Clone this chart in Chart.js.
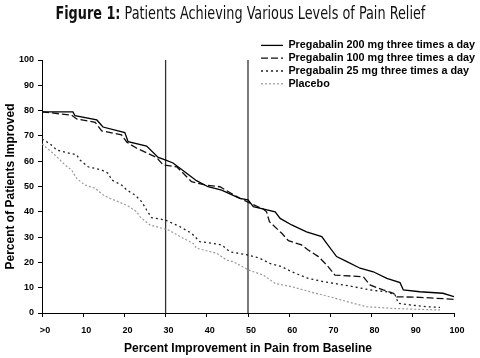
<!DOCTYPE html>
<html>
<head>
<meta charset="utf-8">
<script src="https://cdn.jsdelivr.net/npm/chart.js@4"></script>
<style>
    html, body { margin: 0; padding: 0; background: #fff; }
    #wrap { position: relative; width: 480px; height: 358px; }
    #title {
        position: absolute; top: 3px; left: 0; width: 480px; text-align: center;
        font-family: "Liberation Sans Narrow", "DejaVu Sans Condensed", sans-serif;
        font-size: 17px; color: #111; white-space: nowrap;
    }
    #title span { display: inline-block; transform-origin: center; }
</style>
</head>
<body>
<div id="wrap">
    <canvas id="painChart" width="480" height="358"></canvas>
    <div id="title"><span><b>Figure 1:</b> Patients Achieving Various Levels of Pain Relief</span></div>
</div>
<script>
// Percent improvement in pain (x) vs percent of patients improved (y)
const xTicks = [0, 10, 20, 30, 40, 50, 60, 70, 80, 90, 100];
const yTicks = [0, 10, 20, 30, 40, 50, 60, 70, 80, 90, 100];
const markerLines = [30, 50];

const seriesNames = [
    'Pregabalin 200 mg three times a day',
    'Pregabalin 100 mg three times a day',
    'Pregabalin 25 mg three times a day',
    'Placebo'
];

const pg200X = [0, 7.5, 8, 13.3, 14.8, 20.1, 20.9, 25.4, 28.2, 29.9, 31.8, 35.1, 37.5, 40.3, 43.6, 48, 50, 51.3, 56.6, 57.8, 60.6, 64.2, 67.9, 69.1, 71.5, 74, 77.2, 80.4, 83.7, 86.9, 87.7, 91.7, 97.3, 100];
const pg200Y = [79.5, 79.5, 78, 76.3, 73.5, 71.3, 67.7, 66, 61.5, 60.5, 59.3, 55.2, 52.3, 49.9, 48.6, 45.3, 44.7, 42, 40, 37.4, 34.8, 32.1, 30.2, 27.5, 22.3, 20.3, 17.7, 16.3, 13.7, 12, 9.1, 8.4, 7.8, 6.5];

const pg100X = [0, 7.2, 8.4, 12.9, 14.5, 19.3, 20.6, 23, 27.8, 29.4, 32.7, 36.3, 39.6, 43.2, 47.3, 50.5, 53.7, 54.5, 55.2, 58.2, 59.8, 63, 64.6, 67.1, 69.1, 71.1, 78, 79.6, 82.8, 85.3, 86.1, 91.7, 100];
const pg100Y = [79.5, 78.2, 76.7, 75.4, 72, 70.4, 67.5, 65.1, 61.5, 58.5, 57.8, 51.9, 50.6, 49.9, 46, 43.4, 41.1, 40, 36.1, 31.5, 28.6, 26.9, 24.9, 22.3, 19, 15, 14.3, 11.1, 9.1, 7.8, 6.4, 6.2, 5.4];

const pg25X = [0, 2, 3.6, 6, 8.4, 9.2, 11.2, 14.5, 16.1, 16.9, 19.3, 20.6, 22.6, 24.2, 25.4, 26.6, 28.6, 30.3, 33.5, 36.3, 38.3, 41.6, 43.6, 45.6, 50.1, 52.9, 55.3, 58.2, 60.6, 64.6, 68.3, 75.6, 79.6, 83.7, 85.7, 86.5, 89.3, 93.4, 96.6];
const pg25Y = [68.8, 66.8, 64.4, 63.4, 62.5, 60.5, 57.8, 56.5, 55.2, 52.6, 50.6, 48.6, 46.6, 44, 40.7, 37.7, 37.2, 36.5, 34.1, 31.5, 28.2, 27.5, 26.9, 24.2, 22.9, 21.6, 19.6, 18.3, 16.3, 13.7, 12.4, 10.4, 9.1, 8.4, 7.1, 3.8, 3.2, 2.5, 2.2];

const placeboX = [0, 2.7, 4, 5.6, 7.2, 8.4, 10.4, 12.9, 14.9, 16.5, 18.5, 20.9, 23, 23.8, 26.2, 29.1, 30.7, 33.5, 36.7, 37.5, 42.4, 44.8, 46.4, 50.1, 53.7, 56.6, 60.6, 65, 69.9, 75.6, 78.8, 85.3, 90, 96.6];
const placeboY = [66.8, 63.1, 61.1, 58.5, 56.5, 53.2, 50.6, 49.3, 46.6, 45.3, 44, 42.3, 40, 38, 34.8, 33.5, 32.8, 30.2, 27.5, 25.6, 23.6, 20.9, 20.3, 17, 15, 11.7, 10.4, 8.4, 6.4, 3.8, 2.5, 1.8, 1.5, 1.2];

function toPoints(xs, ys) {
    return xs.map((x, i) => ({ x: x, y: ys[i] }));
}

// Fit the narrow title to the width of the original
(function fitTitle() {
    const span = document.querySelector('#title span');
    const w = span.getBoundingClientRect().width;
    span.style.transform = 'scaleX(' + (370 / w) + ')';
})();

(function initChart() {
    const canvas = document.getElementById('painChart');
    const ctx = canvas.getContext('2d');

    const boldFont = (size) => ({ family: 'Liberation Sans, Arial, sans-serif', size: size, weight: 'bold' });

    // Legend sits top-right, partly above the plot
    const legendPlacer = {
        id: 'legendPlacer',
        beforeDraw(chart) {
            const lg = chart.legend;
            lg.left = 259;
            lg.right = 480;
            lg.top = 38;
            lg.bottom = chart.chartArea.bottom;
        }
    };

    const curve = (label, xs, ys, color, dash, width) => ({
        label: label,
        data: toPoints(xs, ys),
        borderColor: color,
        backgroundColor: 'rgba(0,0,0,0)',
        borderWidth: width,
        borderDash: dash,
        pointRadius: 0,
        tension: 0,
        fill: false
    });

    const datasets = [
        curve(seriesNames[0], pg200X, pg200Y, '#000000', [], 1.3),
        curve(seriesNames[1], pg100X, pg100Y, '#111111', [7, 3], 1.3),
        curve(seriesNames[2], pg25X, pg25Y, '#222222', [2, 3], 1.3),
        curve(seriesNames[3], placeboX, placeboY, '#9a9a9a', [2, 2], 1.2)
    ];

    markerLines.forEach(function(m) {
        datasets.push({
            label: 'marker',
            data: [{ x: m, y: yTicks[0] }, { x: m, y: yTicks[yTicks.length - 1] }],
            borderColor: '#333333',
            borderWidth: 1.3,
            pointRadius: 0,
            fill: false
        });
    });

    // legend samples as short line segments with the dataset's dash
    const lineLabels = (chart) => {
        const base = Chart.defaults.plugins.legend.labels.generateLabels(chart);
        return base.map(function(item) {
            const ds = chart.data.datasets[item.datasetIndex];
            item.lineDash = ds.borderDash;
            item.lineWidth = ds.borderWidth;
            item.strokeStyle = ds.borderColor;
            item.pointStyle = 'line';
            return item;
        });
    };

    new Chart(ctx, {
        type: 'line',
        data: { datasets: datasets },
        plugins: [legendPlacer],
        options: {
            responsive: false,
            animation: false,
            layout: { padding: { top: 60, right: 26, left: 0, bottom: 0 } },
            plugins: {
                legend: {
                    position: 'chartArea',
                    align: 'start',
                    labels: {
                        usePointStyle: true,
                        pointStyle: 'line',
                        pointStyleWidth: 22,
                        boxHeight: 8,
                        padding: 2,
                        color: '#000',
                        font: boldFont(10.8),
                        generateLabels: lineLabels,
                        filter: (item) => item.datasetIndex < seriesNames.length
                    }
                },
                tooltip: { enabled: false }
            },
            scales: {
                x: {
                    type: 'linear',
                    min: xTicks[0],
                    max: xTicks[xTicks.length - 1],
                    afterFit: (s) => { s.height = 45; },
                    afterBuildTicks: (s) => { s.ticks = xTicks.map(v => ({ value: v })); },
                    grid: { drawOnChartArea: false, drawTicks: true, tickLength: 4, color: '#000' },
                    border: { display: true, color: '#000', width: 1 },
                    ticks: {
                        color: '#000',
                        font: boldFont(9),
                        padding: 8,
                        labelOffset: 3,
                        maxRotation: 0,
                        autoSkip: false,
                        callback: (v) => v === 0 ? '>0' : v
                    },
                    title: {
                        display: true,
                        text: 'Percent Improvement in Pain from Baseline',
                        color: '#000',
                        font: boldFont(12),
                        padding: { top: 0, bottom: 2 }
                    }
                },
                y: {
                    min: yTicks[0],
                    max: yTicks[yTicks.length - 1],
                    afterFit: (s) => { s.width = 42; },
                    afterBuildTicks: (s) => { s.ticks = yTicks.map(v => ({ value: v })); },
                    grid: { drawOnChartArea: false, drawTicks: true, tickLength: 4, color: '#000' },
                    border: { display: true, color: '#000', width: 1 },
                    ticks: { color: '#000', font: boldFont(9), padding: 4, autoSkip: false },
                    title: {
                        display: true,
                        text: 'Percent of Patients Improved',
                        color: '#000',
                        font: boldFont(12),
                        padding: { top: 3, bottom: 0 }
                    }
                }
            }
        }
    });
})();
</script>
</body>
</html>
